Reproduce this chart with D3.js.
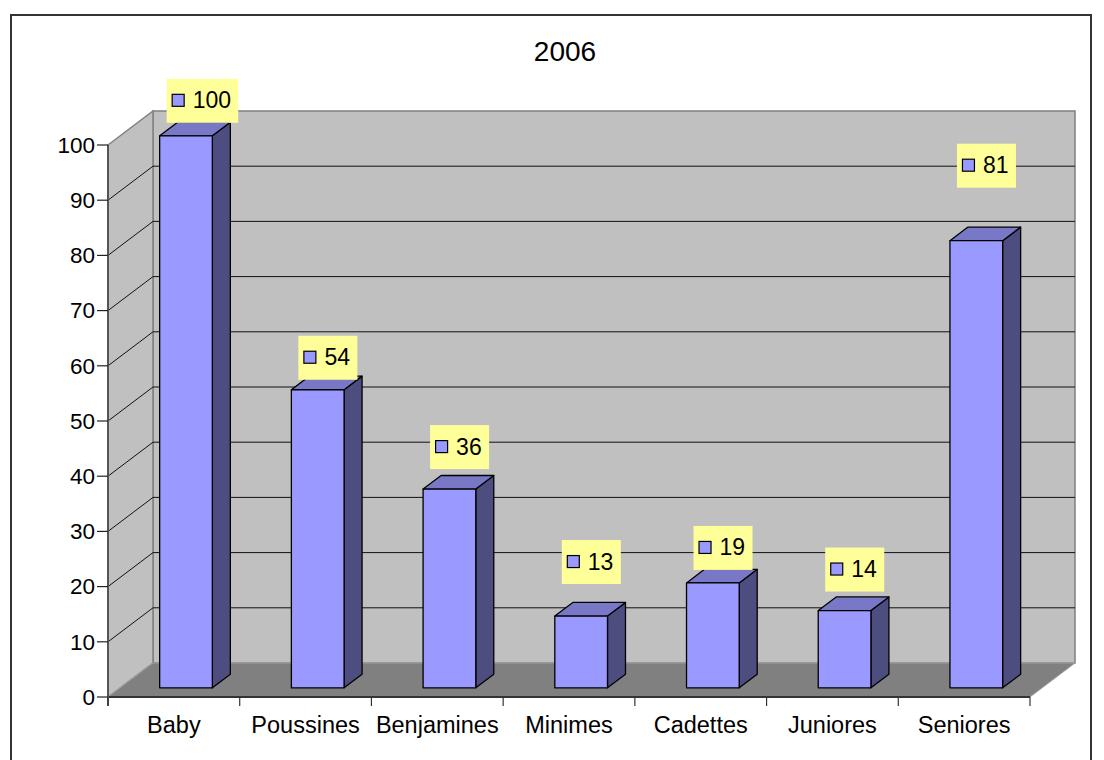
<!DOCTYPE html>
<html>
<head>
<meta charset="utf-8">
<script src="https://cdn.jsdelivr.net/npm/d3@7"></script>
<style>
  body { margin: 0; background: #fff; }
  text { font-family: "Liberation Sans", Arial, sans-serif; fill: #000; }
</style>
</head>
<body>
<svg id="chart" width="1104" height="760"></svg>
<script>
// data
const title = '2006'
const categories = ['Baby', 'Poussines', 'Benjamines', 'Minimes', 'Cadettes', 'Juniores', 'Seniores']
const values = [100, 54, 36, 13, 19, 14, 81]
const yTicks = [0, 10, 20, 30, 40, 50, 60, 70, 80, 90, 100]

// layout
const front = { left: 108, right: 1030, bottom: 697, top: 145 }
const depth = { dx: 45, dy: -34 }
const barDepth = [0.27, 0.67]     // front / back of the bars, as fraction of the floor depth
const barRatio = 0.4
// labels were dragged around in the original, gap (px) between bar top and label box
const labelGap = [13, 10, 20, 32, 13, 19, 53]

const svg = d3.select('#chart')

const x = d3.scaleBand().domain(categories).range([front.left, front.right])
const y = d3.scaleLinear().domain([0, 100]).range([front.bottom, front.top])

const off = (f) => [f * depth.dx, f * depth.dy]
const pts = (arr) => arr.map(p => p.join(',')).join(' ')

// outer frame
svg.append('rect')
    .attr('x', 11).attr('y', 15)
    .attr('width', 1080).attr('height', 800)
    .attr('fill', 'none')
    .attr('stroke', '#333')
    .attr('stroke-width', 2)

svg.append('text')
    .attr('x', 565).attr('y', 61)
    .attr('text-anchor', 'middle')
    .attr('font-size', 28)
    .text(title)

const walls = svg.append('g')

// back wall
walls.append('rect')
    .attr('x', front.left + depth.dx)
    .attr('y', y(100) + depth.dy)
    .attr('width', front.right - front.left)
    .attr('height', y(0) - y(100))
    .attr('fill', '#c0c0c0')
    .attr('stroke', '#808080')
    .attr('stroke-width', 1.5)

// side wall
walls.append('polygon')
    .attr('points', pts([
        [front.left, y(100)], [front.left + depth.dx, y(100) + depth.dy],
        [front.left + depth.dx, y(0) + depth.dy], [front.left, y(0)]
    ]))
    .attr('fill', '#c0c0c0')
    .attr('stroke', '#808080')
    .attr('stroke-width', 1.5)

// gridlines
const grid = yTicks.filter(d => d > 0 && d < 100)
walls.selectAll('.grid')
    .data(grid)
    .join('polyline')
        .attr('class', 'grid')
        .attr('points', d => pts([
            [front.left, y(d)],
            [front.left + depth.dx, y(d) + depth.dy],
            [front.right + depth.dx, y(d) + depth.dy]
        ]))
        .attr('fill', 'none')
        .attr('stroke', '#111')
        .attr('stroke-width', 1)

// floor
walls.append('polygon')
    .attr('points', pts([
        [front.left, y(0)], [front.right, y(0)],
        [front.right + depth.dx, y(0) + depth.dy], [front.left + depth.dx, y(0) + depth.dy]
    ]))
    .attr('fill', '#808080')
    .attr('stroke', '#a0a0a0')
    .attr('stroke-width', 1)

walls.append('line')
    .attr('x1', front.left).attr('x2', front.right)
    .attr('y1', y(0)).attr('y2', y(0))
    .attr('stroke', '#333').attr('stroke-width', 2)

// y axis
const yAxisG = svg.append('g')
yAxisG.append('line')
    .attr('x1', front.left).attr('x2', front.left)
    .attr('y1', y(100)).attr('y2', y(0) + 9)
    .attr('stroke', '#555').attr('stroke-width', 2)
yAxisG.selectAll('.tick')
    .data(yTicks)
    .join('g')
        .attr('class', 'tick')
        .attr('transform', d => `translate(0,${y(d)})`)
        .call(g => g.append('line')
            .attr('x1', front.left - 11).attr('x2', front.left)
            .attr('stroke', '#222').attr('stroke-width', 1.2))
        .call(g => g.append('text')
            .attr('x', front.left - 13)
            .attr('dy', '0.35em')
            .attr('text-anchor', 'end')
            .attr('font-size', 22.5)
            .text(d => d))

// x axis
const xTicks = categories.map(c => x(c)).concat([front.right])
svg.selectAll('.xtick')
    .data(xTicks)
    .join('line')
        .attr('class', 'xtick')
        .attr('x1', d => d).attr('x2', d => d)
        .attr('y1', y(0)).attr('y2', y(0) + 9)
        .attr('stroke', '#333').attr('stroke-width', 1.2)
svg.selectAll('.xlabel')
    .data(categories)
    .join('text')
        .attr('class', 'xlabel')
        .attr('x', d => x(d) + x.bandwidth() / 2)
        .attr('y', 733)
        .attr('text-anchor', 'middle')
        .attr('font-size', 23.5)
        .text(d => d)

// bars
const bw = x.bandwidth() * barRatio
const [fx, fy] = off(barDepth[0])
const [bx, by] = off(barDepth[1])
const ddx = bx - fx, ddy = by - fy

const bars = svg.selectAll('.bar')
    .data(categories.map((c, i) => ({ c, v: values[i], i })))
    .join('g')
        .attr('class', 'bar')

bars.each(function (d) {
    const g = d3.select(this)
    const x0 = x(d.c) + (x.bandwidth() - bw) / 2 + fx
    const x1 = x0 + bw
    const yb = y(0) + fy
    const yt = y(d.v) + fy
    d.x0 = x0; d.yt = yt

    g.append('polygon')
        .attr('points', pts([[x1, yb], [x1 + ddx, yb + ddy], [x1 + ddx, yt + ddy], [x1, yt]]))
        .attr('fill', '#4d4d80')
    g.append('polygon')
        .attr('points', pts([[x0, yt], [x1, yt], [x1 + ddx, yt + ddy], [x0 + ddx, yt + ddy]]))
        .attr('fill', '#7878c6')
    g.append('rect')
        .attr('x', x0).attr('y', yt)
        .attr('width', bw).attr('height', yb - yt)
        .attr('fill', '#9999ff')
    g.selectAll('polygon, rect')
        .attr('stroke', '#000')
        .attr('stroke-width', 1.3)
        .attr('stroke-linejoin', 'round')
})

// data labels
const labels = svg.selectAll('.dlabel')
    .data(bars.data())
    .join('g')
        .attr('class', 'dlabel')
        .attr('transform', d => `translate(${d.x0 + 7},${d.yt - labelGap[d.i] - 44})`)

labels.append('rect')
    .attr('height', 44)
    .attr('width', d => 34 + String(d.v).length * 12.5)
    .attr('fill', '#ffff99')
labels.append('rect')
    .attr('x', 5.5).attr('y', 15.5)
    .attr('width', 12).attr('height', 12)
    .attr('fill', '#9999ff')
    .attr('stroke', '#000')
    .attr('stroke-width', 1.2)
labels.append('text')
    .attr('x', 26).attr('y', 29.5)
    .attr('font-size', 23)
    .text(d => d.v)
</script>
</body>
</html>
